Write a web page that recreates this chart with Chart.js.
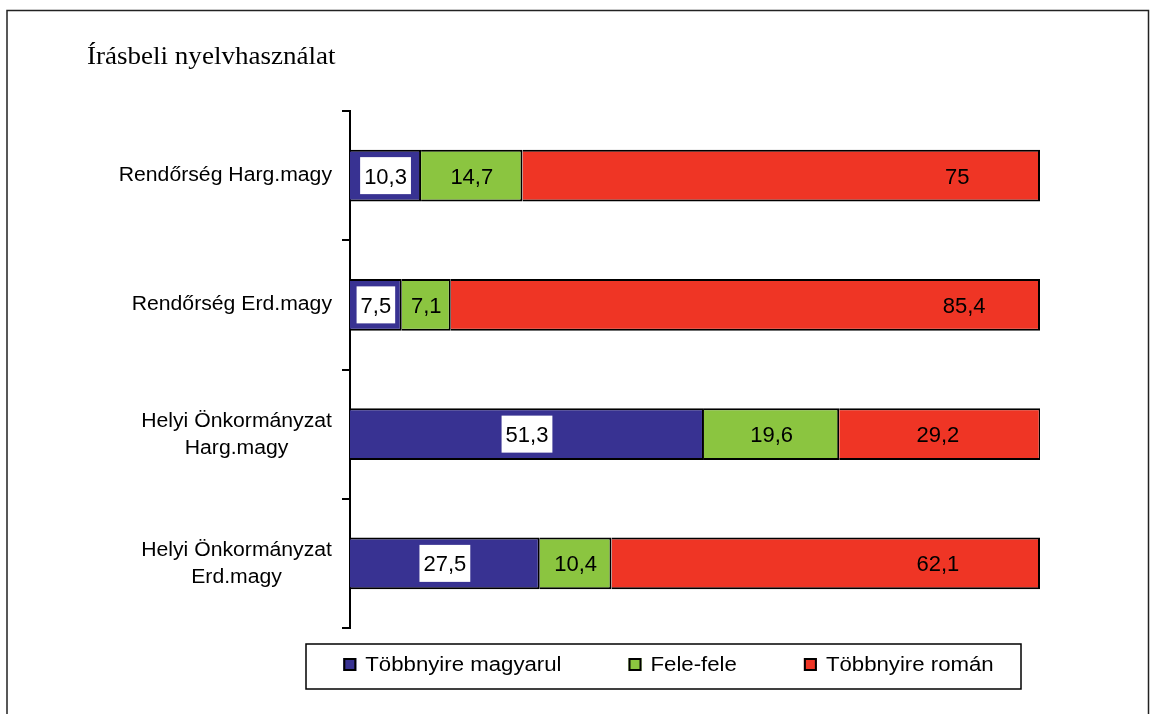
<!DOCTYPE html>
<html>
<head>
<meta charset="utf-8">
<script src="https://cdn.jsdelivr.net/npm/chart.js@4/dist/chart.umd.min.js"></script>
<style>
html,body{margin:0;padding:0;background:#fff;}
#wrap{position:relative;width:1150px;height:714px;}
</style>
</head>
<body>
<div id="wrap"><canvas id="c" width="1150" height="714"></canvas></div>
<script>
const chartTitle = 'Írásbeli nyelvhasználat';
const categories = [
  ['Rendőrség Harg.magy'],
  ['Rendőrség Erd.magy'],
  ['Helyi Önkormányzat', 'Harg.magy'],
  ['Helyi Önkormányzat', 'Erd.magy']
];
const seriesNames = ['Többnyire magyarul', 'Fele-fele', 'Többnyire román'];
const magyarul = [10.3, 7.5, 51.3, 27.5];
const feleFele = [14.7, 7.1, 19.6, 10.4];
const roman = [75, 85.4, 29.2, 62.1];

const SANS = '"Liberation Sans", Arial, sans-serif';
const SERIF = '"Liberation Serif", "Times New Roman", serif';

function sText(ctx, txt, x, y, align, sx) {
  ctx.save();
  ctx.translate(x, y);
  ctx.scale(sx, 1);
  ctx.textAlign = align;
  ctx.textBaseline = 'alphabetic';
  ctx.fillText(txt, 0, 0);
  ctx.restore();
}
function fmt(v) { return String(v).replace('.', ','); }

const decor = {
  id: 'decor',
  afterDraw(chart, args, opts) {
    const ctx = chart.ctx;
    const ys = chart.scales.y;
    const xs = chart.scales.x;
    ctx.save();
    // outer frame
    ctx.strokeStyle = '#222';
    ctx.lineWidth = 1.5;
    ctx.strokeRect(7, 10.5, 1141.5, 800);
    // title
    ctx.fillStyle = '#000';
    ctx.font = '26px ' + SERIF;
    sText(ctx, chartTitle, 87, 64, 'left', 1.04);
    // category labels
    ctx.font = '20px ' + SANS;
    const lsx = 1.06;
    chart.data.labels.forEach((lines, i) => {
      const cy = ys.getPixelForValue(i);
      const right = 332;
      if (lines.length === 1) {
        sText(ctx, lines[0], right, cy + 5, 'right', lsx);
      } else {
        const bw = Math.max(...lines.map(l => ctx.measureText(l).width * lsx));
        const cx = right - bw / 2;
        sText(ctx, lines[0], cx, cy - 7, 'center', lsx);
        sText(ctx, lines[1], cx, cy + 20, 'center', lsx);
      }
    });
    // data labels
    ctx.font = '22px ' + SANS;
    chart.data.datasets.forEach((ds, d) => {
      const meta = chart.getDatasetMeta(d);
      meta.data.forEach((bar, i) => {
        const v = ds.data[i];
        const txt = fmt(v);
        let cx = (bar.x + bar.base) / 2;
        if (d === 2) cx = xs.getPixelForValue(opts.lastLabelAt[i]);
        const cy = bar.y;
        const tw = ctx.measureText(txt).width;
        if (d === 0) {
          ctx.fillStyle = '#fff';
          ctx.fillRect(cx - tw / 2 - 4, cy - 18.5, tw + 8, 37);
        }
        ctx.fillStyle = '#000';
        sText(ctx, txt, cx, cy + 8, 'center', 1);
      });
    });
    // legend
    ctx.font = '20px ' + SANS;
    const gsx = 1.11, box = 13, gapTxt = 9, gap = 67;
    const items = chart.data.datasets.map(ds => ({
      text: ds.label, color: ds.backgroundColor,
      w: ctx.measureText(ds.label).width * gsx
    }));
    const total = items.reduce((s, it) => s + box + gapTxt + it.w, 0) + gap * (items.length - 1);
    let x = 668.5 - total / 2;
    ctx.lineWidth = 1.5;
    ctx.strokeStyle = '#000';
    ctx.strokeRect(306, 644, 715, 45);
    items.forEach(it => {
      ctx.fillStyle = it.color;
      ctx.fillRect(x, 658, box, box);
      ctx.lineWidth = 2;
      ctx.strokeRect(x + 1, 659, box - 2, box - 2);
      ctx.fillStyle = '#000';
      sText(ctx, it.text, x + box + gapTxt, 671, 'left', gsx);
      x += box + gapTxt + it.w + gap;
    });
    ctx.restore();
  }
};

new Chart(document.getElementById('c'), {
  type: 'bar',
  data: {
    labels: categories,
    datasets: [
      { label: seriesNames[0], data: magyarul, backgroundColor: '#383292' },
      { label: seriesNames[1], data: feleFele, backgroundColor: '#8bc540' },
      { label: seriesNames[2], data: roman, backgroundColor: '#ef3525' }
    ]
  },
  options: {
    indexAxis: 'y',
    responsive: false,
    animation: false,
    layout: { padding: { left: 342, right: 110, top: 111, bottom: 86 } },
    datasets: {
      bar: {
        borderColor: '#000', borderWidth: 2, borderSkipped: 'start',
        barPercentage: 0.4, categoryPercentage: 1
      }
    },
    scales: {
      x: { stacked: true, min: 0, max: 100, display: false },
      y: {
        stacked: true,
        grid: { display: true, drawOnChartArea: false, drawTicks: true, tickLength: 8, color: '#000', lineWidth: 2, offset: true },
        border: { display: true, color: '#000', width: 2 },
        ticks: { display: false },
        afterFit(s) { s.width = 8; }
      }
    },
    plugins: {
      legend: { display: false },
      tooltip: { enabled: false },
      title: { display: false },
      decor: { lastLabelAt: [88.0, 89.0, 85.2, 85.2] }
    }
  },
  plugins: [decor]
});
</script>
</body>
</html>
